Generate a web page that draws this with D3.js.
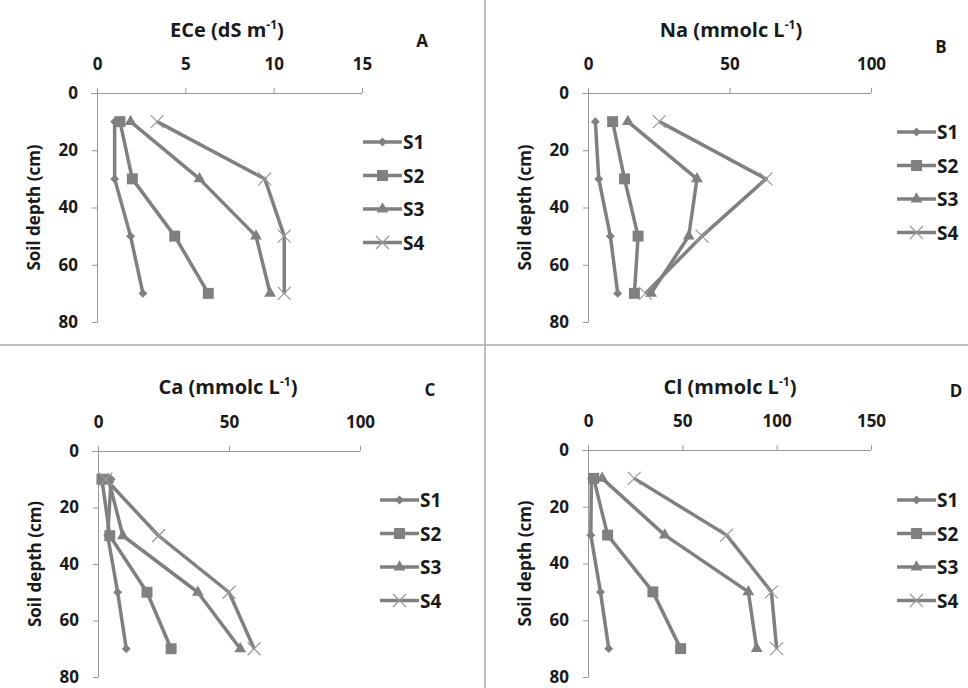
<!DOCTYPE html>
<html>
<head>
<meta charset="utf-8">
<script src="https://cdn.jsdelivr.net/npm/d3@7"></script>
<style>
  body { margin: 0; background: #fff; }
  svg { display: block; font-family: "Open Sans", Lato, sans-serif; font-weight: bold; }
</style>
</head>
<body>
<svg id="chart" width="968" height="688"></svg>
<script>
// depths (cm) shared by every panel
const depths = [10, 30, 50, 70];
const seriesNames = ["S1", "S2", "S3", "S4"];
const depthTicks = [0, 20, 40, 60, 80];

// values per series, S1..S4
const eceValues = [
  [1.0, 1.0, 1.9, 2.6],
  [1.3, 2.0, 4.4, 6.3],
  [1.9, 5.8, 9.0, 9.8],
  [3.4, 9.5, 10.6, 10.6]
];
const naValues = [
  [2.6, 3.8, 7.9, 10.5],
  [8.7, 12.9, 17.7, 16.4],
  [14.1, 38.5, 35.6, 22.3],
  [25.2, 62.9, 40.3, 20.3]
];
const caValues = [
  [5.0, 3.7, 7.5, 10.8],
  [1.5, 4.5, 18.7, 27.9],
  [4.0, 9.5, 38.1, 54.3],
  [3.0, 23.1, 50.0, 59.6]
];
const clValues = [
  [1.8, 1.5, 6.6, 11.0],
  [3.0, 10.4, 34.4, 49.1],
  [7.5, 40.7, 85.0, 89.4],
  [24.5, 73.5, 97.2, 100.0]
];

const eceTicks = [0, 5, 10, 15];
const naTicks = [0, 50, 100];
const caTicks = [0, 50, 100];
const clTicks = [0, 50, 100, 150];

const svg = d3.select("#chart");
const grey = "#808080";
const ink = "#1a1a1a";

// panel layout
const panels = [
  { title: "ECe (dS m", unit: ")", letter: "A", values: eceValues, ticks: eceTicks,
    x: [97, 362], y: [93, 322], titleX: 227, titleY: 37, letterX: 422, letterY: 47,
    legX: 363, legY: 142 },
  { title: "Na (mmolc L", unit: ")", letter: "B", values: naValues, ticks: naTicks,
    x: [588, 871], y: [93, 322], titleX: 731, titleY: 37, letterX: 941, letterY: 53,
    legX: 897, legY: 132 },
  { title: "Ca (mmolc L", unit: ")", letter: "C", values: caValues, ticks: caTicks,
    x: [98, 360], y: [451, 677], titleX: 228, titleY: 394, letterX: 430, letterY: 396,
    legX: 380, legY: 500 },
  { title: "Cl (mmolc L", unit: ")", letter: "D", values: clValues, ticks: clTicks,
    x: [588, 871], y: [450, 677], titleX: 730, titleY: 394, letterX: 956, letterY: 397,
    legX: 897, legY: 500 }
];

// divider lines between the four panels
svg.append("line").attr("x1", 485).attr("x2", 485).attr("y1", 0).attr("y2", 688)
  .attr("stroke", "#aaa").attr("stroke-width", 1.5);
svg.append("line").attr("x1", 0).attr("x2", 968).attr("y1", 345).attr("y2", 345)
  .attr("stroke", "#aaa").attr("stroke-width", 1.5);

// marker drawing for each series
function drawMarker(g, i) {
  if (i === 0) {
    g.append("path").attr("d", d3.symbol(d3.symbolSquare, 40)())
      .attr("transform", "rotate(45)").attr("fill", grey);
  } else if (i === 1) {
    g.append("path").attr("d", d3.symbol(d3.symbolSquare, 120)()).attr("fill", grey);
  } else if (i === 2) {
    g.append("path").attr("d", d3.symbol(d3.symbolTriangle, 60)()).attr("fill", grey);
  } else {
    const r = 6.5;
    g.append("path").attr("d", `M${-r},${-r}L${r},${r}M${-r},${r}L${r},${-r}`)
      .attr("stroke", "#999").attr("stroke-width", 1.2).attr("fill", "none");
  }
}

panels.forEach(p => {
  const x = d3.scaleLinear().domain([p.ticks[0], p.ticks[p.ticks.length - 1]]).range(p.x);
  const y = d3.scaleLinear().domain([0, 80]).range(p.y);

  // x axis on top
  const xg = svg.append("g").attr("transform", `translate(0,${p.y[0]})`)
    .call(d3.axisTop(x).tickValues(p.ticks).tickSize(5).tickSizeOuter(0).tickPadding(18));
  xg.select(".domain").attr("d", `M${p.x[0] - 6},0.5H${p.x[1]}`);

  // y axis on left, depth increasing downward
  const yg = svg.append("g").attr("transform", `translate(${p.x[0]},0)`)
    .call(d3.axisLeft(y).tickValues(depthTicks).tickSize(5).tickSizeOuter(0).tickPadding(14));

  [xg, yg].forEach(g => {
    g.selectAll(".domain, line").attr("stroke", "#999");
    g.selectAll("text").attr("fill", ink).style("font-size", "17px")
      .style("font-weight", "bold").style("font-family", "'Open Sans', sans-serif");
  });

  // titles
  const t = svg.append("text").attr("x", p.titleX).attr("y", p.titleY)
    .attr("text-anchor", "middle").style("font-size", "20px").attr("fill", ink);
  t.append("tspan").text(p.title);
  t.append("tspan").text("-1").style("font-size", "12px").attr("dy", -8);
  t.append("tspan").text(p.unit).attr("dy", 8);

  svg.append("text").attr("x", p.letterX).attr("y", p.letterY)
    .attr("text-anchor", "middle").style("font-size", "17px").attr("fill", ink)
    .text(p.letter);

  svg.append("text")
    .attr("transform", `translate(${p.x[0] - 57},${(p.y[0] + p.y[1]) / 2}) rotate(-90)`)
    .attr("text-anchor", "middle").style("font-size", "17px").attr("fill", ink)
    .text("Soil depth (cm)");

  // series lines
  const line = d3.line().x(d => x(d.v)).y(d => y(d.d));
  p.values.forEach((vals, i) => {
    const pts = vals.map((v, k) => ({ v: v, d: depths[k] }));
    svg.append("path").datum(pts).attr("d", line)
      .attr("fill", "none").attr("stroke", grey).attr("stroke-width", 3.5)
      .attr("stroke-linejoin", "round");
  });
  p.values.forEach((vals, i) => {
    vals.forEach((v, k) => {
      const g = svg.append("g").attr("transform", `translate(${x(v)},${y(depths[k])})`);
      drawMarker(g, i);
    });
  });

  // legend
  seriesNames.forEach((name, i) => {
    const ly = p.legY + i * 33.5;
    svg.append("line").attr("x1", p.legX).attr("x2", p.legX + 39)
      .attr("y1", ly).attr("y2", ly).attr("stroke", grey).attr("stroke-width", 3.5);
    drawMarker(svg.append("g").attr("transform", `translate(${p.legX + 19.5},${ly})`), i);
    svg.append("text").attr("x", p.legX + 40).attr("y", ly + 7)
      .style("font-size", "19px").attr("fill", ink).text(name);
  });
});
</script>
</body>
</html>
